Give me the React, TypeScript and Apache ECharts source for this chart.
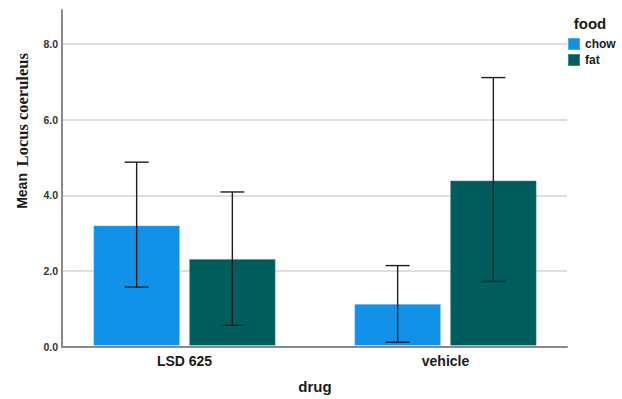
import React, { useEffect, useRef } from "react";
import * as echarts from "echarts";

const categories = ["LSD 625", "vehicle"];
const seriesNames = ["chow", "fat"];
const chowMean = [3.2, 1.12];
const chowLow = [1.56, 0.1];
const chowHigh = [4.87, 2.13];
const fatMean = [2.31, 4.39];
const fatLow = [0.55, 1.71];
const fatHigh = [4.08, 7.11];
const yTicks = [0, 2, 4, 6, 8];

const SANS = "'Liberation Sans', Arial, sans-serif";
const SERIF = "'Liberation Serif', 'Times New Roman', serif";
const BLUE = "#1192e8";
const TEAL = "#005d5d";
const BAR_W = 87;
const BAR_GAP = 8.7;

function errorSeries(name: string, low: number[], high: number[], dir: number) {
  return {
    type: "custom",
    name: name + "-err",
    xAxisIndex: 0,
    yAxisIndex: 0,
    z: 10,
    silent: true,
    data: categories.map((_, i) => [i, low[i], high[i]]),
    encode: { x: 0, y: [1, 2] },
    renderItem: (params: any, api: any) => {
      const cat = api.value(0);
      const lo = api.coord([cat, api.value(1)]);
      const hi = api.coord([cat, api.value(2)]);
      const x = lo[0] + (dir * (BAR_W + BAR_GAP)) / 2;
      const cap = 12;
      const st = { stroke: "#1e1e1e", lineWidth: 1.4 };
      return {
        type: "group",
        children: [
          { type: "line", shape: { x1: x, y1: lo[1], x2: x, y2: hi[1] }, style: st },
          { type: "line", shape: { x1: x - cap, y1: lo[1], x2: x + cap, y2: lo[1] }, style: st },
          { type: "line", shape: { x1: x - cap, y1: hi[1], x2: x + cap, y2: hi[1] }, style: st },
        ],
      };
    },
  };
}

export default function App() {
  const ref = useRef<HTMLDivElement>(null);
  useEffect(() => {
    if (!ref.current) return;
    const chart = echarts.init(ref.current, null, { renderer: "svg" });
    const top = 10;
    const bottom = 399 - 346.7;
    chart.setOption({
      animation: false,
      textStyle: { fontFamily: SANS },
      grid: [
        { left: 54, right: 46, top, bottom },
        { left: 62, right: 55, top, bottom },
      ],
      xAxis: [
        {
          type: "category",
          gridIndex: 0,
          data: categories,
          axisLine: { show: false },
          axisTick: { show: false },
          axisLabel: { color: "#1a1a1a", fontWeight: "bold", fontSize: 14, fontFamily: SANS, margin: 8 },
          name: "drug",
          nameLocation: "middle",
          nameGap: 33,
          nameTextStyle: { color: "#1a1a1a", fontWeight: "bold", fontSize: 15, fontFamily: SANS },
        },
        {
          type: "category",
          gridIndex: 1,
          data: categories,
          axisLine: { show: true, lineStyle: { color: "#8a8a8a", width: 2 } },
          axisTick: { show: false },
          axisLabel: { show: false },
        },
      ],
      yAxis: [
        {
          type: "value",
          gridIndex: 0,
          min: 0,
          max: 8.9,
          show: false,
          splitLine: { show: false },
        },
        {
          type: "value",
          gridIndex: 1,
          min: 0,
          max: 8.9,
          interval: 2,
          axisLine: { show: true, lineStyle: { color: "#8a8a8a", width: 2 } },
          axisTick: { show: false },
          axisLabel: {
            color: "#333",
            fontWeight: "bold",
            fontSize: 10.5,
            fontFamily: SANS,
            margin: 4,
            showMaxLabel: false,
            formatter: (v: number) => (yTicks.includes(v) ? v.toFixed(1) : ""),
          },
          splitLine: {
            show: true,
            lineStyle: {
              color: ["#d4d4d4", "#d4d4d4", "#d4d4d4", "#d4d4d4", "#d4d4d4", "rgba(0,0,0,0)"],
              width: 1.5,
            },
          },
        },
      ],
      legend: {
        orient: "vertical",
        left: 562,
        top: 32,
        itemWidth: 12,
        itemHeight: 12,
        itemGap: 2,
        icon: "rect",
        data: seriesNames,
        textStyle: { color: "#1a1a1a", fontWeight: "bold", fontSize: 12, fontFamily: SANS },
      },
      graphic: [
        {
          type: "text",
          x: 590,
          y: 23,
          style: {
            text: "food",
            fill: "#1a1a1a",
            font: `bold 15px ${SANS}`,
            textAlign: "center",
            textVerticalAlign: "middle",
          },
        },
        {
          type: "text",
          x: 22,
          y: 131,
          rotation: Math.PI / 2,
          style: {
            text: "{a|Mean}  {b|Locus coeruleus}",
            textAlign: "center",
            textVerticalAlign: "middle",
            rich: {
              a: { fontFamily: SANS, fontWeight: "bold", fontSize: 14, fill: "#1a1a1a" },
              b: { fontFamily: SERIF, fontWeight: "bold", fontSize: 16.5, fill: "#1a1a1a" },
            },
          },
        },
      ],
      series: [
        {
          type: "bar",
          name: "chow",
          xAxisIndex: 0,
          yAxisIndex: 0,
          data: chowMean,
          barWidth: BAR_W,
          barGap: `${(BAR_GAP / BAR_W) * 100}%`,
          itemStyle: { color: BLUE, borderColor: "rgba(255,255,255,0.25)", borderWidth: 1 },
        },
        {
          type: "bar",
          name: "fat",
          xAxisIndex: 0,
          yAxisIndex: 0,
          data: fatMean,
          barWidth: BAR_W,
          barGap: `${(BAR_GAP / BAR_W) * 100}%`,
          itemStyle: { color: TEAL, borderColor: "rgba(255,255,255,0.25)", borderWidth: 1 },
        },
        errorSeries("chow", chowLow, chowHigh, -1),
        errorSeries("fat", fatLow, fatHigh, 1),
      ],
    });
    return () => chart.dispose();
  }, []);
  return <div ref={ref} style={{ width: 622, height: 399, position: "absolute", left: 0, top: 0 }} />;
}
